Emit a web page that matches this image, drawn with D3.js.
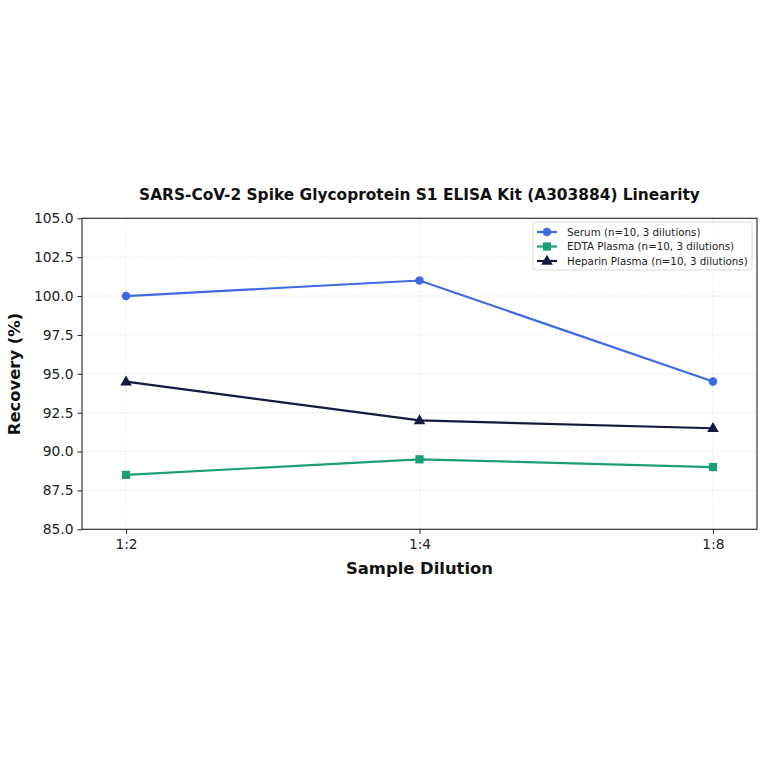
<!DOCTYPE html>
<html><head><meta charset="utf-8">
<script src="https://cdn.jsdelivr.net/npm/d3@7"></script>
<style>body{margin:0;background:#fff;} svg{display:block;font-family:"DejaVu Sans",sans-serif;}</style>
</head><body>
<script>
const categories = ["1:2", "1:4", "1:8"];
const serum = [100.0, 101.0, 94.5];
const edta = [88.5, 89.5, 89.0];
const heparin = [94.5, 92.0, 91.5];
const yTicks = [85.0, 87.5, 90.0, 92.5, 95.0, 97.5, 100.0, 102.5, 105.0];
const seriesNames = ["Serum (n=10, 3 dilutions)", "EDTA Plasma (n=10, 3 dilutions)", "Heparin Plasma (n=10, 3 dilutions)"];

const W = 764, H = 764;
const m = {l: 82, r: 757, t: 218.3, b: 529.3};
const svg = d3.select("body").append("svg").attr("width", W).attr("height", H);

const x = d3.scaleLinear().domain([-0.15, 2.15]).range([m.l, m.r]);
const y = d3.scaleLinear().domain([85, 105]).range([m.b, m.t]);

// grid
const g = svg.append("g");
g.selectAll(".gy").data(yTicks).enter().append("line")
  .attr("x1", m.l).attr("x2", m.r).attr("y1", d => y(d)).attr("y2", d => y(d))
  .attr("stroke", "#b0b0b0").attr("stroke-opacity", 0.3).attr("stroke-width", 0.8).attr("stroke-dasharray", "3,1.5");
g.selectAll(".gx").data(categories).enter().append("line")
  .attr("y1", m.t).attr("y2", m.b).attr("x1", (d, i) => x(i)).attr("x2", (d, i) => x(i))
  .attr("stroke", "#b0b0b0").attr("stroke-opacity", 0.3).attr("stroke-width", 0.8).attr("stroke-dasharray", "3,1.5");

// axes
const yAxis = d3.axisLeft(y).tickValues(yTicks).tickFormat(d3.format(".1f")).tickSize(4.5).tickPadding(4);
const xAxis = d3.axisBottom(x).tickValues([0, 1, 2]).tickFormat(i => categories[i]).tickSize(4.5).tickPadding(5);
const ya = svg.append("g").attr("transform", `translate(${m.l},0)`).call(yAxis);
const xa = svg.append("g").attr("transform", `translate(0,${m.b})`).call(xAxis);
[ya, xa].forEach(a => {
  a.select(".domain").remove();
  a.selectAll("text").attr("font-size", 13.8).attr("fill", "#222").attr("font-family", "DejaVu Sans");
  a.selectAll("line").attr("stroke", "#222").attr("stroke-width", 1);
});
// frame
svg.append("rect").attr("x", m.l).attr("y", m.t).attr("width", m.r - m.l).attr("height", m.b - m.t)
  .attr("fill", "none").attr("stroke", "#222").attr("stroke-width", 1.1);

const colors = ["#4169E1", "#1B9E77", "#131A3E"];
const data = [serum, edta, heparin];
const line = d3.line().x((d, i) => x(i)).y(d => y(d));

function marker(sel, k, cx, cy) {
  if (k === 0) sel.append("circle").attr("cx", cx).attr("cy", cy).attr("r", 4.3).attr("fill", colors[k]);
  else if (k === 1) sel.append("rect").attr("x", cx - 4.1).attr("y", cy - 4.1).attr("width", 8.2).attr("height", 8.2).attr("fill", colors[k]);
  else sel.append("path").attr("d", d3.symbol(d3.symbolTriangle, 58)()).attr("transform", `translate(${cx},${cy + 0.5})`).attr("fill", colors[k]);
}

data.forEach((vals, k) => {
  svg.append("path").datum(vals).attr("d", line).attr("fill", "none")
    .attr("stroke", colors[k]).attr("stroke-width", 2.2);
  vals.forEach((v, i) => marker(svg, k, x(i), y(v)));
});

// legend
const lg = svg.append("g");
lg.append("rect").attr("x", 533).attr("y", 222).attr("width", 219).attr("height", 48).attr("rx", 2.5)
  .attr("fill", "#fff").attr("fill-opacity", 0.9).attr("stroke", "#d0d0d0").attr("stroke-width", 0.8);
seriesNames.forEach((n, k) => {
  const yy = 232 + k * 14.5;
  lg.append("line").attr("x1", 537).attr("x2", 557).attr("y1", yy).attr("y2", yy).attr("stroke", colors[k]).attr("stroke-width", 2.2);
  marker(lg, k, 547, yy);
  lg.append("text").attr("x", 567).attr("y", yy + 3.7).attr("font-size", 10.3).attr("fill", "#222").text(n);
});

// titles
svg.append("text").attr("x", 419.5).attr("y", 200).attr("text-anchor", "middle")
  .attr("font-size", 15.4).attr("font-weight", "bold").attr("fill", "#111")
  .text("SARS-CoV-2 Spike Glycoprotein S1 ELISA Kit (A303884) Linearity");
svg.append("text").attr("x", 419.5).attr("y", 574).attr("text-anchor", "middle")
  .attr("font-size", 16.4).attr("font-weight", "bold").attr("fill", "#111").text("Sample Dilution");
svg.append("text").attr("transform", `translate(20,374) rotate(-90)`).attr("text-anchor", "middle")
  .attr("font-size", 16.4).attr("font-weight", "bold").attr("fill", "#111").text("Recovery (%)");
</script>
</body></html>
